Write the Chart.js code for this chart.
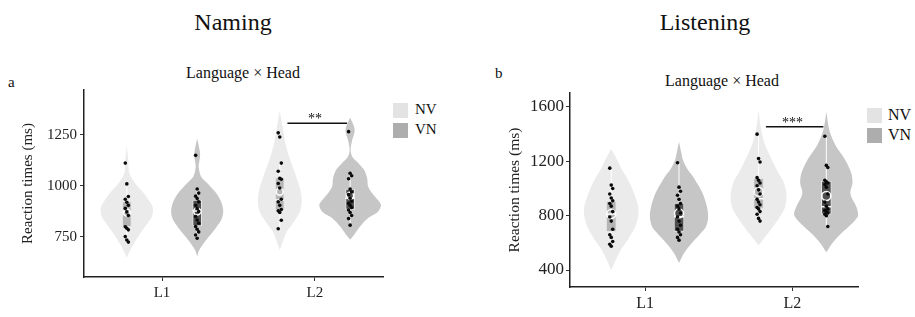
<!DOCTYPE html>
<html>
<head>
<meta charset="utf-8">
<script src="https://cdn.jsdelivr.net/npm/chart.js@4"></script>
<style>
  body { margin: 0; background: #fff; width: 915px; height: 317px; position: relative; overflow: hidden;
         font-family: "Liberation Serif", "Times New Roman", serif; color: #111; }
  canvas { position: absolute; top: 0; }
  .t { position: absolute; white-space: nowrap; line-height: 1; }
  .c { transform: translateX(-50%); }
  .sw { position: absolute; width: 15px; height: 15px; }
</style>
</head>
<body>
<div class="t c" style="left:233px;top:10px;font-size:24px">Naming</div>
<div class="t c" style="left:705px;top:10px;font-size:24px">Listening</div>
<div class="t" style="left:8px;top:75px;font-size:15px">a</div>
<div class="t" style="left:495px;top:66px;font-size:15px">b</div>
<div class="t c" style="left:243px;top:65px;font-size:16px">Language × Head</div>
<div class="t c" style="left:722px;top:73px;font-size:16px">Language × Head</div>

<div class="sw" style="left:393px;top:103px;background:#e3e3e3"></div>
<div class="sw" style="left:393px;top:123px;background:#adadad"></div>
<div class="t" style="left:415px;top:102px;font-size:15px">NV</div>
<div class="t" style="left:415px;top:122px;font-size:15px">VN</div>
<div class="sw" style="left:867px;top:108px;background:#e3e3e3"></div>
<div class="sw" style="left:867px;top:128px;background:#adadad"></div>
<div class="t" style="left:888px;top:107px;font-size:16px">NV</div>
<div class="t" style="left:888px;top:127px;font-size:16px">VN</div>

<canvas id="naming" width="457" height="317" style="left:0"></canvas>
<canvas id="listening" width="458" height="317" style="left:457px"></canvas>

<script>
// Language x Head violins, naming (a) and listening (b)

const categories = ["L1", "L2"];
const groups = ["NV", "VN"];

// order of the four violins in every list: NV-L1, VN-L1, NV-L2, VN-L2
const namingTicks = [750, 1000, 1250];
const namingLow = [725, 740, 790, 805];
const namingQ1 = [800, 804, 882, 885];
const namingMedian = [873, 877, 931, 940];
const namingQ3 = [923, 931, 1040, 985];
const namingHigh = [1010, 985, 1112, 1065];
const namingMean = [870, 875, 972, 952];

const namingNVL1Levels = [1195, 1127, 1064, 1015, 971, 931, 892, 848, 799, 750, 701, 650];
const namingNVL1Density = [0, 0.05, 0.08, 0.27, 0.53, 0.73, 0.87, 0.83, 0.6, 0.37, 0.17, 0];
const namingVNL1Levels = [1232, 1176, 1152, 1120, 1094, 1045, 1015, 971, 922, 875, 833, 784, 735, 686, 655];
const namingVNL1Density = [0, 0.08, 0.1, 0.07, 0.05, 0.13, 0.33, 0.6, 0.8, 0.87, 0.8, 0.57, 0.3, 0.07, 0];
const namingNVL2Levels = [1370, 1284, 1201, 1119, 1037, 972, 923, 874, 825, 776, 727, 686];
const namingNVL2Density = [0, 0.1, 0.2, 0.37, 0.57, 0.7, 0.73, 0.67, 0.47, 0.23, 0.1, 0];
const namingVNL2Levels = [1335, 1291, 1266, 1225, 1186, 1160, 1137, 1113, 1078, 1037, 997, 966, 931, 907, 874, 843, 801, 760, 738];
const namingVNL2Density = [0, 0.13, 0.15, 0.07, 0.02, 0.03, 0.1, 0.27, 0.47, 0.57, 0.6, 0.73, 0.93, 1.03, 0.93, 0.6, 0.33, 0.13, 0];

const namingNVL1Points = [1112, 1010, 948, 935, 920, 905, 890, 873, 855, 800, 793, 785, 752, 735, 725];
const namingVNL1Points = [1150, 985, 965, 950, 938, 922, 905, 890, 875, 850, 833, 817, 801, 788, 775, 760, 744];
const namingNVL2Points = [1260, 1240, 1112, 1072, 1038, 1033, 1012, 990, 935, 922, 905, 885, 878, 870, 832, 790];
const namingVNL2Points = [1266, 1062, 1050, 1035, 985, 970, 958, 940, 925, 915, 905, 895, 882, 870, 855, 840, 808];

const listeningTicks = [400, 800, 1200, 1600];
const listeningLow = [575, 620, 760, 720];
const listeningQ1 = [682, 685, 854, 812];
const listeningMedian = [812, 792, 925, 866];
const listeningQ3 = [905, 893, 1075, 1055];
const listeningHigh = [1150, 1190, 1400, 1385];
const listeningMean = [812, 817, 977, 945];

const listeningNVL1Levels = [1290, 1210, 1150, 1087, 1013, 940, 866, 800, 720, 650, 597, 540, 498, 450, 400];
const listeningNVL1Density = [0, 0.2, 0.33, 0.5, 0.67, 0.8, 0.9, 0.9, 0.8, 0.63, 0.47, 0.3, 0.2, 0.1, 0];
const listeningVNL1Levels = [1345, 1270, 1210, 1136, 1087, 1038, 989, 940, 866, 792, 720, 672, 598, 525, 451];
const listeningVNL1Density = [0, 0.07, 0.13, 0.3, 0.47, 0.6, 0.73, 0.83, 0.93, 0.97, 0.9, 0.73, 0.43, 0.17, 0];
const listeningNVL2Levels = [1580, 1455, 1333, 1197, 1112, 1050, 952, 854, 756, 658, 620, 580];
const listeningNVL2Density = [0, 0.07, 0.2, 0.47, 0.67, 0.83, 0.93, 0.87, 0.6, 0.27, 0.13, 0];
const listeningVNL2Levels = [1565, 1431, 1320, 1210, 1112, 1038, 977, 940, 866, 805, 731, 670, 597, 530];
const listeningVNL2Density = [0, 0.1, 0.3, 0.63, 0.83, 0.87, 0.8, 0.83, 1, 1.07, 0.8, 0.5, 0.2, 0];

const listeningNVL1Points = [1150, 1025, 1000, 960, 930, 910, 890, 870, 830, 790, 760, 700, 660, 640, 610, 590, 575];
const listeningVNL1Points = [1190, 1010, 980, 950, 920, 890, 870, 850, 820, 790, 760, 730, 700, 680, 660, 640, 620];
const listeningNVL2Points = [1400, 1220, 1195, 1080, 1060, 1040, 1020, 990, 960, 920, 900, 880, 860, 850, 830, 810, 780, 760];
const listeningVNL2Points = [1385, 1170, 1155, 1060, 1050, 1040, 1030, 1010, 960, 900, 870, 850, 840, 830, 820, 810, 800, 720];

const namingSig = { value: 1307, label: "**" };
const listeningSig = { value: 1455, label: "***" };

const font = '"Liberation Serif", "Times New Roman", serif';
const violinFill = ["#ebebeb", "#c6c6c6"];
const boxFill = ["#b5b5b5", "#4f4f4f"];
const dodge = 0.23;

function groupX(i) {
  return Math.floor(i / 2) + 1 + (i % 2 === 0 ? -dodge : dodge);
}

// text over the significance bracket
const sigLabel = {
  id: "sigLabel",
  afterDatasetsDraw(chart, args, opts) {
    const { ctx, scales } = chart;
    ctx.save();
    ctx.font = "14px " + font;
    ctx.fillStyle = "#111";
    ctx.textAlign = "center";
    ctx.textBaseline = "alphabetic";
    ctx.fillText(opts.text, scales.x.getPixelForValue(2), scales.y.getPixelForValue(opts.value));
    ctx.restore();
  },
};

function makePanel(id, p) {
  const datasets = [];

  p.violins.forEach((v, i) => {
    const cx = groupX(i);
    const right = v.levels.map((y, k) => ({ x: cx + v.density[k] * p.violinWidth, y })).reverse();
    const left = v.levels.map((y, k) => ({ x: cx - v.density[k] * p.violinWidth, y }));
    datasets.push({
      type: "line",
      data: right.concat(left),
      fill: "shape",
      backgroundColor: violinFill[i % 2],
      borderWidth: 0,
      pointRadius: 0,
      tension: 0.3,
      order: 10,
    });
    datasets.push({
      type: "line",
      data: [{ x: cx, y: p.low[i] }, { x: cx, y: p.high[i] }],
      borderColor: "#ffffff",
      borderWidth: 1,
      pointRadius: 0,
      order: 8,
    });
    datasets.push({
      type: "scatter",
      data: v.points.map((y, k) => ({ x: cx + ((k % 3) - 1) * 0.01, y })),
      backgroundColor: "#0a0a0a",
      borderWidth: 0,
      pointRadius: 1.8,
      order: 2,
    });
  });

  datasets.push({
    type: "bar",
    data: p.q1.map((q, i) => ({ x: groupX(i), y: [q, p.q3[i]] })),
    backgroundColor: p.q1.map((q, i) => boxFill[i % 2]),
    borderColor: "#e6e6e6",
    borderWidth: 1,
    borderSkipped: false,
    barThickness: p.boxWidth,
    grouped: false,
    order: 6,
  });
  datasets.push({
    type: "scatter",
    data: p.median.map((m, i) => ({ x: groupX(i), y: m })),
    pointStyle: "line",
    pointRadius: p.boxWidth / 2,
    borderColor: "#ffffff",
    borderWidth: 1.5,
    order: 4,
  });
  datasets.push({
    type: "scatter",
    data: p.mean.map((m, i) => ({ x: groupX(i), y: m })),
    pointStyle: "circle",
    pointRadius: p.meanRadius,
    borderColor: "#ffffff",
    backgroundColor: "rgba(0,0,0,0)",
    borderWidth: 1.5,
    order: 3,
  });
  datasets.push({
    type: "line",
    data: [{ x: groupX(2) + 0.05, y: p.sig.value }, { x: groupX(3) - 0.02, y: p.sig.value }],
    borderColor: "#111",
    borderWidth: 1.5,
    pointRadius: 0,
    order: 1,
  });

  const axisCommon = {
    offset: false,
    grid: { drawOnChartArea: false, drawTicks: true, tickLength: 4, color: "#333", offset: false },
    border: { color: "#222", width: 1.5 },
  };

  return new Chart(document.getElementById(id), {
    type: "scatter",
    data: { datasets },
    options: {
      responsive: false,
      animation: false,
      events: [],
      layout: { padding: { top: p.top, right: p.right, left: 0, bottom: 0 } },
      plugins: {
        legend: { display: false },
        tooltip: { enabled: false },
        sigLabel: { text: p.sig.label, value: p.sig.value },
      },
      scales: {
        x: {
          type: "linear",
          min: 0.49,
          max: 2.445,
          afterBuildTicks: (s) => { s.ticks = categories.map((c, i) => ({ value: i + 1 })); },
          afterFit: (s) => { s.height = p.xAxisHeight; },
          ticks: {
            callback: (v) => categories[v - 1],
            font: { family: font, size: p.xFont },
            color: "#222",
            padding: 3,
            maxRotation: 0,
            autoSkip: false,
          },
          ...axisCommon,
        },
        y: {
          type: "linear",
          min: p.yMin,
          max: p.yMax,
          afterBuildTicks: (s) => { s.ticks = p.ticks.map((v) => ({ value: v })); },
          afterFit: (s) => { s.width = p.yAxisWidth; },
          ticks: {
            callback: (v) => String(v),
            font: { family: font, size: p.yFont },
            color: "#222",
            padding: p.tickPad,
          },
          title: {
            display: true,
            text: "Reaction times (ms)",
            font: { family: font, size: p.titleFont },
            color: "#222",
            padding: { top: p.titlePad, bottom: 0 },
          },
          ...axisCommon,
        },
      },
    },
    plugins: [sigLabel],
  });
}

makePanel("naming", {
  violins: [
    { levels: namingNVL1Levels, density: namingNVL1Density, points: namingNVL1Points },
    { levels: namingVNL1Levels, density: namingVNL1Density, points: namingVNL1Points },
    { levels: namingNVL2Levels, density: namingNVL2Density, points: namingNVL2Points },
    { levels: namingVNL2Levels, density: namingVNL2Density, points: namingVNL2Points },
  ],
  low: namingLow, q1: namingQ1, median: namingMedian, q3: namingQ3, high: namingHigh, mean: namingMean,
  ticks: namingTicks, sig: namingSig,
  yMin: 554, yMax: 1470,
  violinWidth: 0.196, boxWidth: 9, meanRadius: 3.5,
  top: 90, right: 74, xAxisHeight: 40, yAxisWidth: 84,
  xFont: 15, yFont: 15, titleFont: 15, titlePad: 19, tickPad: 3,
});

makePanel("listening", {
  violins: [
    { levels: listeningNVL1Levels, density: listeningNVL1Density, points: listeningNVL1Points },
    { levels: listeningVNL1Levels, density: listeningVNL1Density, points: listeningVNL1Points },
    { levels: listeningNVL2Levels, density: listeningNVL2Density, points: listeningNVL2Points },
    { levels: listeningVNL2Levels, density: listeningVNL2Density, points: listeningVNL2Points },
  ],
  low: listeningLow, q1: listeningQ1, median: listeningMedian, q3: listeningQ3, high: listeningHigh, mean: listeningMean,
  ticks: listeningTicks, sig: listeningSig,
  yMin: 275, yMax: 1703,
  violinWidth: 0.204, boxWidth: 10, meanRadius: 4.5,
  top: 93, right: 57, xAxisHeight: 30, yAxisWidth: 113,
  xFont: 16, yFont: 17, titleFont: 15.5, titlePad: 49, tickPad: 2,
});
</script>
</body>
</html>
